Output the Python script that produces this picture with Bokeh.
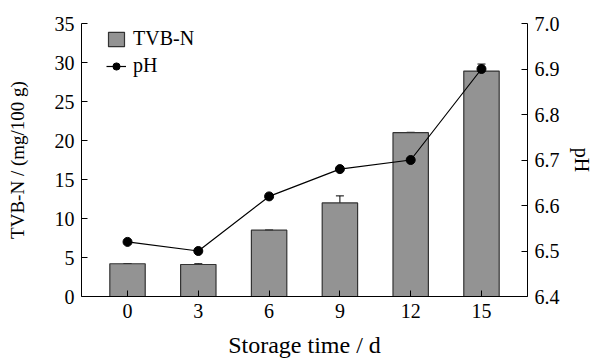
from bokeh.plotting import figure
from bokeh.models import (Range1d, LinearAxis, FixedTicker, Whisker, TeeHead,
                          ColumnDataSource, Legend, LegendItem, CustomJSTickFormatter)
from bokeh.embed import file_html
from bokeh.resources import INLINE

days = [0, 3, 6, 9, 12, 15]
tvbn = [4.2, 4.1, 8.5, 12.0, 21.0, 28.9]
tvbn_err = [0.0, 0.1, 0.0, 0.9, 0.05, 0.9]
ph = [6.52, 6.50, 6.62, 6.68, 6.70, 6.90]

FONT = "Liberation Serif"
FS = "20px"

src = ColumnDataSource(dict(
    x=days, top=tvbn,
    upper=[t + e for t, e in zip(tvbn, tvbn_err)],
    lower=[t - e for t, e in zip(tvbn, tvbn_err)],
    ph=ph,
))

p = figure(width=601, height=360, output_backend="svg", toolbar_location=None,
           x_range=Range1d(-1.95, 16.95), y_range=Range1d(0, 35),
           min_border_left=81, min_border_right=74, min_border_top=23,
           min_border_bottom=60, y_axis_location="left")
p.outline_line_color = None
p.grid.grid_line_color = None
p.background_fill_color = "white"
p.border_fill_color = "white"

p.extra_y_ranges = {"ph": Range1d(6.4, 7.0)}

bars = p.vbar(x="x", top="top", width=1.5, source=src, fill_color="#939393",
              line_color="#333333", line_width=1.2)
w = Whisker(base="x", upper="upper", lower="lower", source=src,
            line_color="black", line_width=1,
            upper_head=TeeHead(size=8, line_color="black", line_width=1),
            lower_head=TeeHead(size=8, line_color="black", line_width=1))
p.add_layout(w)

ln = p.line(x="x", y="ph", source=src, y_range_name="ph", line_color="black",
            line_width=1.2)
pts = p.scatter(x="x", y="ph", source=src, y_range_name="ph", size=9,
                fill_color="black", line_color="black")

def style(ax):
    ax.axis_line_color = "black"
    ax.axis_line_width = 1
    ax.major_tick_line_color = "black"
    ax.major_tick_in = 6
    ax.major_tick_out = 0
    ax.minor_tick_line_color = None
    ax.major_label_text_font = FONT
    ax.major_label_text_font_size = FS
    ax.major_label_text_color = "black"
    ax.axis_label_text_font = FONT
    ax.axis_label_text_font_size = FS
    ax.axis_label_text_font_style = "normal"
    ax.axis_label_text_color = "black"
    ax.major_label_standoff = 7

xa = p.xaxis[0]
style(xa)
xa.ticker = FixedTicker(ticks=days)
xa.axis_label = "Storage time / d"
xa.axis_label_text_font_size = "24px"
xa.axis_label_standoff = 11

ya = p.yaxis[0]
style(ya)
ya.ticker = FixedTicker(ticks=[0, 5, 10, 15, 20, 25, 30, 35])
ya.axis_label = "TVB-N / (mg/100 g)"
ya.axis_label_text_font_size = "19px"
ya.axis_label_standoff = 24

ra = LinearAxis(y_range_name="ph")
style(ra)
ra.ticker = FixedTicker(ticks=[6.4, 6.5, 6.6, 6.7, 6.8, 6.9, 7.0])
ra.formatter = CustomJSTickFormatter(code="return tick.toFixed(1);")
ra.axis_label = "pH"
ra.axis_label_standoff = 8
p.add_layout(ra, "right")

legend = Legend(items=[LegendItem(label="TVB-N", renderers=[bars]),
                       LegendItem(label="pH", renderers=[ln, pts])],
                location=(25, 219), orientation="vertical",
                border_line_color=None, background_fill_alpha=0,
                label_text_font=FONT, label_text_font_size=FS,
                label_text_color="black",
                glyph_width=20, glyph_height=18, label_height=18,
                spacing=4, padding=0, margin=0, label_standoff=7)
p.add_layout(legend)

open("out.html", "w").write(file_html(p, INLINE))
